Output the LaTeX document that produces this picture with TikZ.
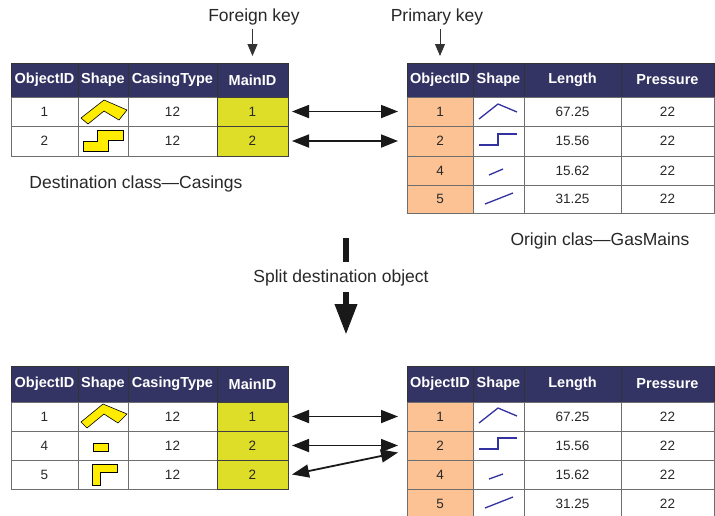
\documentclass[tikz,border=0pt]{standalone}
\usepackage{fontspec}
\setmainfont{Liberation Sans}
\usetikzlibrary{calc,arrows.meta}
\definecolor{hdr}{RGB}{51,51,100}
\definecolor{fkey}{RGB}{222,222,40}
\definecolor{pkey}{RGB}{252,194,148}
\definecolor{shp}{RGB}{255,236,0}
\definecolor{lin}{RGB}{50,50,160}
\definecolor{grd}{RGB}{110,110,110}
\definecolor{txt}{RGB}{40,40,40}
\tikzset{
 cellbox/.style={draw=grd, line width=0.9pt, inner sep=0pt, outer sep=0pt, font=\fontsize{13.5}{15}\selectfont, text=txt},
 hdrbox/.style={cellbox, fill=hdr, draw=black!80, text=white, font=\fontsize{14.5}{16}\bfseries\selectfont},
 fkbox/.style={cellbox, fill=fkey, draw=black!75},
 pkbox/.style={cellbox, fill=pkey},
 plainbox/.style={cellbox, fill=white},
 lbl/.style={font=\fontsize{17.5}{20}\selectfont, text=txt, inner sep=0pt},
 yshape/.style={fill=shp, draw=black, line width=0.6pt, line join=miter},
 bshape/.style={draw=lin, line width=1.3pt},
 dbl/.style={{Triangle[length=17pt,width=13pt]}-{Triangle[length=17pt,width=13pt]}, line width=1.8pt, draw=black!90, fill=black!90},
 keyarrow/.style={-{Triangle[length=12pt,width=10pt]}, line width=1pt, draw=black!80, fill=black!80},
 bigshaft/.style={line width=6.5pt, draw=black!90},
 bigarrow/.style={line width=6.5pt, draw=black!90, fill=black!90, -{Triangle[length=31pt,width=21pt]}},
}
% name, x1, y1, x2, y2, style, text
\newcommand\mycell[7]{\node[#6, minimum width={(#4-#2)*1pt}, minimum height={(#5-#3)*1pt}] (#1) at ({(#2+#4)/2},{(#3+#5)/2}) {#7};}
\begin{document}
\begin{tikzpicture}[x=1pt,y=-1pt]
\useasboundingbox (0,0) rectangle (715,515);
\clip (0,0) rectangle (715,515);
\fill[white] (0,0) rectangle (715,515);

% ---------- Top-left table: Casings ----------
\mycell{Ah1}{11}{63}{78}{97}{hdrbox}{ObjectID}
\mycell{Ah2}{78}{63}{128}{97}{hdrbox}{Shape}
\mycell{Ah3}{128}{63}{217}{97}{hdrbox}{CasingType}
\mycell{Ah4}{217}{63}{288}{97}{hdrbox}{MainID}
\mycell{A11}{11}{97}{78}{126}{plainbox}{1}
\mycell{A12}{78}{97}{128}{126}{plainbox}{}
\mycell{A13}{128}{97}{217}{126}{plainbox}{12}
\mycell{A14}{217}{97}{288}{126}{fkbox}{1}
\mycell{A21}{11}{126}{78}{156}{plainbox}{2}
\mycell{A22}{78}{126}{128}{156}{plainbox}{}
\mycell{A23}{128}{126}{217}{156}{plainbox}{12}
\mycell{A24}{217}{126}{288}{156}{fkbox}{2}
\draw[yshape] (81,118) -- (104,100) -- (127,110) -- (119,120) -- (104,111) -- (88,124) -- cycle;
\draw[yshape] (83,141) -- (97,141) -- (97,130) -- (123,130) -- (123,140) -- (108,140) -- (108,151) -- (83,151) -- cycle;

% ---------- Top-right table: GasMains ----------
\mycell{Bh1}{407}{63}{473}{97}{hdrbox}{ObjectID}
\mycell{Bh2}{473}{63}{524}{97}{hdrbox}{Shape}
\mycell{Bh3}{524}{63}{621}{97}{hdrbox}{Length}
\mycell{Bh4}{621}{63}{714}{97}{hdrbox}{Pressure}
\mycell{B11}{407}{97}{473}{126}{pkbox}{1}
\mycell{B12}{473}{97}{524}{126}{plainbox}{}
\mycell{B13}{524}{97}{621}{126}{plainbox}{67.25}
\mycell{B14}{621}{97}{714}{126}{plainbox}{22}
\mycell{B21}{407}{126}{473}{156}{pkbox}{2}
\mycell{B22}{473}{126}{524}{156}{plainbox}{}
\mycell{B23}{524}{126}{621}{156}{plainbox}{15.56}
\mycell{B24}{621}{126}{714}{156}{plainbox}{22}
\mycell{B31}{407}{156}{473}{185}{pkbox}{4}
\mycell{B32}{473}{156}{524}{185}{plainbox}{}
\mycell{B33}{524}{156}{621}{185}{plainbox}{15.62}
\mycell{B34}{621}{156}{714}{185}{plainbox}{22}
\mycell{B41}{407}{185}{473}{213}{pkbox}{5}
\mycell{B42}{473}{185}{524}{213}{plainbox}{}
\mycell{B43}{524}{185}{621}{213}{plainbox}{31.25}
\mycell{B44}{621}{185}{714}{213}{plainbox}{22}
\draw[bshape] (479,119) -- (498,104) -- (517,112);
\draw[bshape] (479,145) -- (498,145) -- (498,134) -- (517,134);
\draw[bshape] (489,175) -- (503,169);
\draw[bshape] (485,204) -- (513,193);

% ---------- Bottom-left table ----------
\mycell{Ch1}{11}{366}{78}{402}{hdrbox}{ObjectID}
\mycell{Ch2}{78}{366}{128}{402}{hdrbox}{Shape}
\mycell{Ch3}{128}{366}{217}{402}{hdrbox}{CasingType}
\mycell{Ch4}{217}{366}{288}{402}{hdrbox}{MainID}
\mycell{C11}{11}{402}{78}{431}{plainbox}{1}
\mycell{C12}{78}{402}{128}{431}{plainbox}{}
\mycell{C13}{128}{402}{217}{431}{plainbox}{12}
\mycell{C14}{217}{402}{288}{431}{fkbox}{1}
\mycell{C21}{11}{431}{78}{460}{plainbox}{4}
\mycell{C22}{78}{431}{128}{460}{plainbox}{}
\mycell{C23}{128}{431}{217}{460}{plainbox}{12}
\mycell{C24}{217}{431}{288}{460}{fkbox}{2}
\mycell{C31}{11}{460}{78}{489}{plainbox}{5}
\mycell{C32}{78}{460}{128}{489}{plainbox}{}
\mycell{C33}{128}{460}{217}{489}{plainbox}{12}
\mycell{C34}{217}{460}{288}{489}{fkbox}{2}
\draw[yshape] (81,422) -- (103,404) -- (127,414) -- (118,423) -- (104,414) -- (87,428) -- cycle;
\draw[yshape] (93,443) rectangle (108,451);
\draw[yshape] (92,464) -- (117,464) -- (117,472) -- (100,472) -- (100,485) -- (92,485) -- cycle;

% ---------- Bottom-right table ----------
\mycell{Dh1}{407}{366}{473}{402}{hdrbox}{ObjectID}
\mycell{Dh2}{473}{366}{524}{402}{hdrbox}{Shape}
\mycell{Dh3}{524}{366}{621}{402}{hdrbox}{Length}
\mycell{Dh4}{621}{366}{714}{402}{hdrbox}{Pressure}
\mycell{D11}{407}{402}{473}{431}{pkbox}{1}
\mycell{D12}{473}{402}{524}{431}{plainbox}{}
\mycell{D13}{524}{402}{621}{431}{plainbox}{67.25}
\mycell{D14}{621}{402}{714}{431}{plainbox}{22}
\mycell{D21}{407}{431}{473}{460}{pkbox}{2}
\mycell{D22}{473}{431}{524}{460}{plainbox}{}
\mycell{D23}{524}{431}{621}{460}{plainbox}{15.56}
\mycell{D24}{621}{431}{714}{460}{plainbox}{22}
\mycell{D31}{407}{460}{473}{489}{pkbox}{4}
\mycell{D32}{473}{460}{524}{489}{plainbox}{}
\mycell{D33}{524}{460}{621}{489}{plainbox}{15.62}
\mycell{D34}{621}{460}{714}{489}{plainbox}{22}
\mycell{D41}{407}{489}{473}{519}{pkbox}{5}
\mycell{D42}{473}{489}{524}{519}{plainbox}{}
\mycell{D43}{524}{489}{621}{519}{plainbox}{31.25}
\mycell{D44}{621}{489}{714}{519}{plainbox}{22}
\draw[bshape] (479,423) -- (498,408) -- (517,416);
\draw[bshape] (479,449) -- (498,449) -- (498,438) -- (517,438);
\draw[bshape] (489,479) -- (503,474);
\draw[bshape] (485,508) -- (513,497);

% ---------- Relationship arrows ----------
\draw[dbl] ([xshift=4pt]A14.east) -- ([xshift=-9pt]B11.west);
\draw[dbl] ([xshift=4pt]A24.east) -- ([xshift=-9pt]B21.west);
\draw[dbl] ([xshift=4pt]C14.east) -- ([xshift=-9pt]D11.west);
\draw[dbl] ([xshift=4pt]C24.east) -- ([xshift=-9pt]D21.west);
\draw[dbl] ([xshift=4pt]C34.east) -- ([xshift=-9pt,yshift=-7pt]D21.west);

% ---------- Labels ----------
\node[lbl] (fk) at (254,17) {Foreign key};
\node[lbl] (pk) at (437,17) {Primary key};
\draw[keyarrow] ([yshift=-4pt]Ah4.north |- fk.south) -- ([yshift=7pt]Ah4.north);
\draw[keyarrow] ([yshift=-4pt]Bh1.north |- pk.south) -- ([yshift=7pt]Bh1.north);
\node[lbl] (dest) at (136,184) {Destination class—Casings};
\node[lbl] (orig) at (600,241) {Origin clas—GasMains};

% ---------- Split arrow ----------
\node[lbl] (split) at (341,278) {Split destination object};
\coordinate (s1) at (346,238);
\coordinate (s2) at (346,262);
\coordinate (s3) at (346,292);
\coordinate (s4) at (346,335);
\draw[bigshaft] (s1) -- (s2);
\draw[bigarrow] (s3) -- (s4);
\end{tikzpicture}
\end{document}
